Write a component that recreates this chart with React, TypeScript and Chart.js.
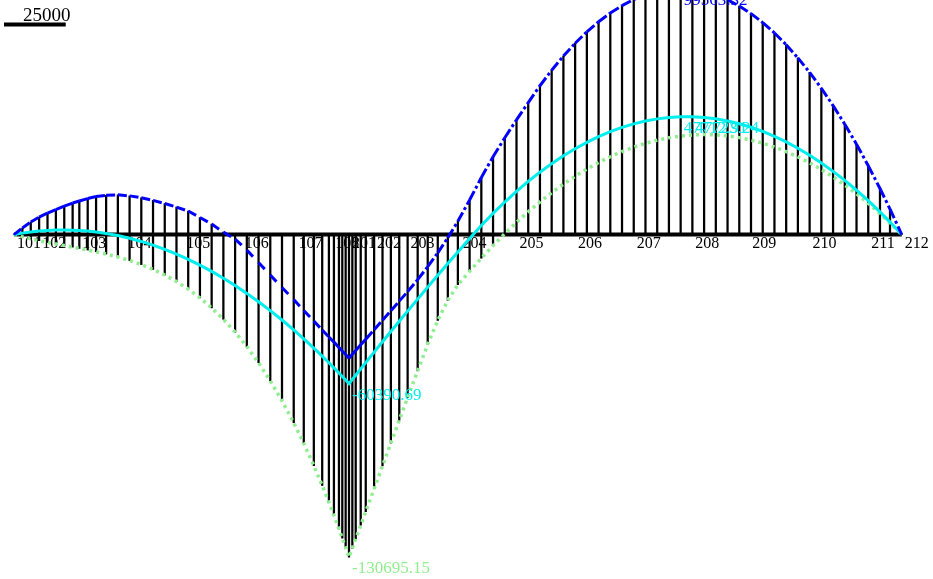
import React, { useEffect, useRef } from 'react';
import { Chart, registerables } from 'chart.js';

Chart.register(...registerables);

// Stations along the beam (m): span 1 = 0..20, span 2 = 20..53
const STATIONS = [
  0, 0.5, 1.0, 1.5, 2.0, 2.5, 3.0, 3.5, 3.9, 4.4, 4.9, 5.5, 6.2, 6.9, 7.6, 8.3, 9.0, 9.7, 10.4,
  11.1, 11.8, 12.5, 13.2, 13.9, 14.6, 15.3, 16.0, 16.7, 17.3, 17.9, 18.4, 18.8, 19.1, 19.4, 19.6,
  19.8, 20.0,
  20.2, 20.4, 20.7, 21.0, 21.5, 22.0, 22.5, 23.0, 23.5, 24.1, 24.7, 25.3, 25.9, 26.5, 27.2, 27.9,
  28.6, 29.3, 30.0, 30.7, 31.4, 32.1, 32.8, 33.5, 34.2, 34.9, 35.6, 36.3, 37.0, 37.7, 38.4, 39.1,
  39.8, 40.5, 41.2, 41.9, 42.6, 43.3, 44.0, 44.7, 45.4, 46.1, 46.8, 47.5, 48.2, 48.9, 49.6, 50.3,
  51.0, 51.7, 52.3, 53.0,
];

// Maximum envelope (blue)
const MAX_ENVELOPE = [
  0, 2630, 5060, 7090, 8710, 10130, 11540, 12760, 13570, 14580, 15390, 15920, 16080, 15670, 14900,
  13850, 12560, 11140, 9520, 6890, 4250, 1010, -1820, -6280, -11340, -16400, -21470, -26330,
  -30780, -35030, -38680, -41510, -43540, -45770, -47180, -48600, -50060,
  -48520, -46980, -44670, -42360, -38510, -34660, -30810, -26960, -23110, -18250, -13030, -7390,
  -1270, 5390, 14000, 23100, 31500, 39200, 46480, 53470, 60280, 66560, 72290, 77470, 82110, 86200,
  89740, 92740, 95200, 97110, 98470, 99290, 99563.32, 99280, 98440, 97040, 95080, 92570, 89490,
  85850, 81650, 76890, 71570, 65690, 59250, 52250, 44700, 36580, 27900, 18660, 10300, 0,
];

// Load case (cyan)
const LOAD_CASE = [
  0, 577, 1047, 1409, 1665, 1814, 1856, 1790, 1661, 1403, 1038, 459, -411, -1491, -2781, -4280,
  -5990, -7908, -10037, -12375, -14923, -17681, -20649, -23826, -27213, -30810, -34616, -38632,
  -42241, -46005, -49259, -51939, -53994, -56087, -57504, -58939, -60390.69,
  -58673, -56960, -54400, -51851, -47626, -43431, -39266, -35131, -31026, -26139, -21296, -16496,
  -11739, -7026, -1581, 3678, 8571, 13176, 17494, 21523, 25265, 28719, 31885, 34763, 37354, 39656,
  41671, 43398, 44837, 45988, 46852, 47427, 47712.91, 47723.24, 47432, 46865, 46015, 44881, 43464,
  41764, 39780, 37513, 34962, 32128, 29010, 25609, 21925, 17957, 13706, 9171, 5059, 0,
];

// Minimum envelope (green)
const MIN_ENVELOPE = [
  0, -908, -1729, -2479, -3173, -3829, -4464, -5092, -5604, -6264, -6966, -7886, -9100, -10512,
  -12166, -14106, -16378, -19029, -22101, -25642, -29696, -34308, -39524, -45388, -51946, -59248,
  -67332, -76242, -84586, -93592, -101627, -108418, -113734, -119236, -123002, -126850, -130695.15,
  -126990, -123290, -117740, -112190, -102940, -93690, -84440, -75190, -66000, -55200, -44400,
  -34800, -26600, -20300, -14900, -9580, -4466, 373, 4936, 9225, 13237, 16974, 20436, 23623, 26534,
  29170, 31530, 33615, 35425, 36959, 38218, 39202, 39910, 40342, 40499, 40376, 39966, 39269, 38284,
  37013, 35454, 33608, 31475, 29055, 26347, 23353, 20071, 16502, 12647, 8504, 4724, 0,
];

const NODE_POS = [0, 1.5, 3.9, 6.6, 10.1, 13.6, 16.8, 19.0, 20.0, 21.5, 23.5, 26.6, 30.0, 33.5, 37.0, 40.5, 43.9, 47.5, 51.0, 53.0];
const NODE_LABELS = ['101', '102', '103', '104', '105', '106', '107', '108', '201', '202', '203', '204', '205', '206', '207', '208', '209', '210', '211', '212'];

const SPAN1_END = 20;
const SCALE_BAR_VALUE = 25000;

const LABEL_SERIES = ['max', 'load', 'load', 'load', 'min'];
const LABEL_AT = [39.8, 39.8, 40.5, 20.0, 20.0];

const COLORS: Record<string, string> = { max: '#0000ff', load: '#00eeee', min: '#90ee90' };
const SERIES: Record<string, number[]> = { max: MAX_ENVELOPE, load: LOAD_CASE, min: MIN_ENVELOPE };

const SERIF = '"Liberation Serif", "Times New Roman", serif';

const annotatePlugin = {
  id: 'annotate',
  afterDatasetsDraw(chart: any) {
    const { ctx } = chart;
    const xs = chart.scales.x;
    const ys = chart.scales.y;
    ctx.save();
    ctx.textAlign = 'left';
    ctx.textBaseline = 'alphabetic';
    ctx.font = `17px ${SERIF}`;
    LABEL_AT.forEach((at, k) => {
      const name = LABEL_SERIES[k];
      const i = STATIONS.indexOf(at);
      const v = SERIES[name][i];
      ctx.fillStyle = COLORS[name];
      ctx.fillText(v.toFixed(2), xs.getPixelForValue(at) + 3, ys.getPixelForValue(v) + 16);
    });
    const len = Math.abs(ys.getPixelForValue(0) - ys.getPixelForValue(SCALE_BAR_VALUE));
    ctx.fillStyle = '#000';
    ctx.fillRect(4, 22.5, len, 4);
    ctx.font = `19px ${SERIF}`;
    ctx.fillText(String(SCALE_BAR_VALUE), 23, 20.5);
    ctx.restore();
  },
};

export default function App() {
  const ref = useRef<HTMLCanvasElement | null>(null);

  useEffect(() => {
    if (!ref.current) return;
    const pts = (arr: number[]) => STATIONS.map((s, i) => ({ x: s, y: arr[i] }));
    const hatch = STATIONS.map((s, i) => ({
      x: s,
      y: [Math.min(0, MIN_ENVELOPE[i]), Math.max(0, MAX_ENVELOPE[i])],
    }));
    const chart = new Chart(ref.current, {
      type: 'line',
      data: {
        datasets: [
          {
            type: 'line',
            data: pts(MAX_ENVELOPE),
            borderColor: COLORS.max,
            borderWidth: 3,
            pointRadius: 0,
            order: 1,
            segment: {
              borderDash: (c: any) => (STATIONS[c.p0DataIndex] < SPAN1_END ? [9, 30] : [10, 3, 3, 3]),
              borderDashOffset: (c: any) => (c.p0DataIndex % 2 ? 0.01 : 0),
            },
          } as any,
          {
            type: 'line',
            data: pts(LOAD_CASE),
            borderColor: COLORS.load,
            borderWidth: 3,
            pointRadius: 0,
            order: 2,
          },
          {
            type: 'line',
            data: pts(MIN_ENVELOPE),
            borderColor: COLORS.min,
            borderWidth: 3.5,
            borderDash: [3, 4],
            pointRadius: 0,
            order: 3,
          },
          {
            type: 'line',
            data: [
              { x: STATIONS[0], y: 0 },
              { x: STATIONS[STATIONS.length - 1], y: 0 },
            ],
            borderColor: '#000',
            borderWidth: 4,
            pointRadius: 0,
            order: 5,
          },
          {
            type: 'bar',
            data: hatch,
            backgroundColor: '#000',
            borderWidth: 0,
            barThickness: 1.6,
            order: 10,
          } as any,
        ],
      },
      options: {
        responsive: false,
        maintainAspectRatio: false,
        animation: false,
        devicePixelRatio: 1,
        layout: { padding: 0 },
        plugins: { legend: { display: false }, tooltip: { enabled: false } },
        scales: {
          x: {
            type: 'linear',
            min: -0.836,
            max: 54.866,
            offset: false,
            position: { y: 0 } as any,
            grid: { display: false, drawTicks: false },
            border: { display: false },
            afterBuildTicks: (scale: any) => {
              scale.ticks = NODE_POS.map((v) => ({ value: v }));
            },
            afterFit: (scale: any) => {
              scale.paddingLeft = 0;
              scale.paddingRight = 0;
            },
            ticks: {
              autoSkip: false,
              maxRotation: 0,
              minRotation: 0,
              align: 'start',
              labelOffset: 3,
              padding: 0,
              color: '#000',
              font: { family: SERIF, size: 16 },
              callback: (_v: any, i: number) => NODE_LABELS[i],
            },
          },
          y: {
            type: 'linear',
            min: -139500,
            max: 95000,
            display: false,
          },
        },
      },
      plugins: [annotatePlugin],
    });
    return () => chart.destroy();
  }, []);

  return (
    <div style={{ position: 'absolute', left: 0, top: 0, width: 933, height: 579, background: '#fff' }}>
      <canvas ref={ref} width={933} height={579} style={{ display: 'block' }} />
    </div>
  );
}
